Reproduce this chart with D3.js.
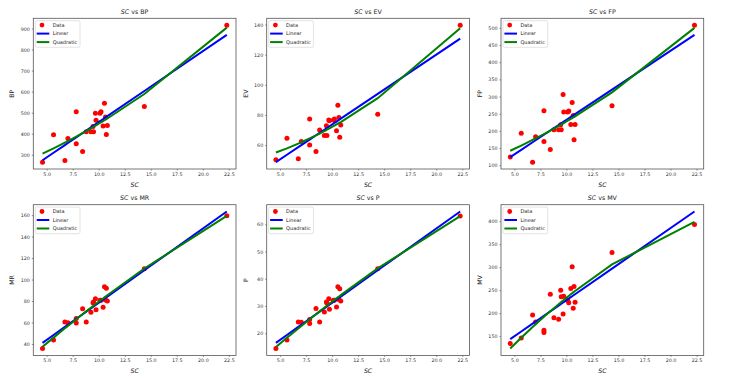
<!DOCTYPE html>
<html><head><meta charset="utf-8">
<script src="https://cdn.jsdelivr.net/npm/d3@7"></script>
<style>
html,body{margin:0;padding:0;background:#fff;}
svg{display:block;font-family:"DejaVu Sans",sans-serif;}
</style></head>
<body><svg id="c" width="734" height="379"></svg>
<script>
// ---- data ----
const sc = [4.6, 5.66, 6.75, 7.04, 7.84, 7.84, 8.45, 8.8, 9.25, 9.45, 9.5, 9.68, 9.74, 10.12, 10.22, 10.42, 10.55, 10.65, 10.73, 10.83, 14.38, 22.3];
const bp = [265, 395, 273, 377, 504, 352, 316, 410, 410, 434, 409, 497, 464, 497, 504, 437, 545, 480, 396, 439, 529, 916];
const ev = [50.3, 64.6, 51.0, 62.4, 77.4, 60.0, 55.8, 70.1, 66.4, 72.8, 66.4, 76.7, 76.2, 76.7, 77.4, 69.5, 86.5, 78.3, 65.2, 73.3, 80.5, 139.6];
const fp = [124, 193, 109, 183, 259, 169, 146, 203, 203, 218, 203, 306, 255, 255, 258, 219, 283, 245, 174, 219, 273, 508];
const mr = [35.7, 43.7, 60.5, 59.8, 63.6, 59.5, 72.9, 60.5, 69.5, 78.4, 79, 82.2, 71.9, 80.6, 80.6, 74.1, 93.3, 81, 91.8, 80, 110, 159.4];
const pp = [14.4, 17.5, 24.1, 24.0, 25.1, 23.6, 29.1, 24.1, 27.8, 31.5, 31.1, 32.7, 28.8, 32.1, 32.1, 29.6, 37.1, 32.4, 36.3, 31.8, 43.7, 63.0];
const mv = [134, 146, 196, 181, 163, 158, 241, 190, 187, 250, 236, 198, 237, 228, 223, 254, 301, 211, 258, 224, 332, 393];

const names = ["BP", "EV", "FP", "MR", "P", "MV"];
const seriesList = [bp, ev, fp, mr, pp, mv];
const xTicks = [5.0, 7.5, 10.0, 12.5, 15.0, 17.5, 20.0, 22.5];
const yTicksBP = [300, 400, 500, 600, 700, 800, 900];
const yTicksEV = [60, 80, 100, 120, 140];
const yTicksFP = [100, 150, 200, 250, 300, 350, 400, 450, 500];
const yTicksMR = [40, 60, 80, 100, 120, 140, 160];
const yTicksP = [20, 30, 40, 50, 60];
const yTicksMV = [150, 200, 250, 300, 350, 400];
const yTickList = [yTicksBP, yTicksEV, yTicksFP, yTicksMR, yTicksP, yTicksMV];
const legendLabels = ["Data", "Linear", "Quadratic"];

// ---- fitting helpers ----
function solve(A, b) {
  const n = b.length; A = A.map(r => r.slice()); b = b.slice();
  for (let i = 0; i < n; i++) {
    let p = i; for (let k = i + 1; k < n; k++) if (Math.abs(A[k][i]) > Math.abs(A[p][i])) p = k;
    [A[i], A[p]] = [A[p], A[i]]; [b[i], b[p]] = [b[p], b[i]];
    for (let k = i + 1; k < n; k++) { const f = A[k][i] / A[i][i]; for (let j = i; j < n; j++) A[k][j] -= f * A[i][j]; b[k] -= f * b[i]; }
  }
  const x = new Array(n).fill(0);
  for (let i = n - 1; i >= 0; i--) { let s = b[i]; for (let j = i + 1; j < n; j++) s -= A[i][j] * x[j]; x[i] = s / A[i][i]; }
  return x;
}
function polyfit(xs, ys, deg) {
  const m = deg + 1, A = [], b = [];
  for (let i = 0; i < m; i++) { A.push([]); for (let j = 0; j < m; j++) A[i].push(d3.sum(xs, x => Math.pow(x, i + j))); b.push(d3.sum(xs, (x, k) => ys[k] * Math.pow(x, i))); }
  return solve(A, b);
}
const evalP = (c, x) => c.reduce((s, ci, i) => s + ci * Math.pow(x, i), 0);

// ---- layout ----
const svg = d3.select("#c");
const lefts = [33.3, 266.7, 501], tops = [18.3, 204.7], W = 202.7, H = 150.7;
const C = { red: "#ff0000", blue: "#0000ff", green: "#008000" };

function pad(lo, hi) { const r = hi - lo; return [lo - 0.05 * r, hi + 0.05 * r]; }

seriesList.forEach((ys, idx) => {
  const L = lefts[idx % 3], T = tops[Math.floor(idx / 3)];
  const g = svg.append("g").attr("transform", `translate(${L},${T})`);
  const c1 = polyfit(sc, ys, 1), c2 = polyfit(sc, ys, 2);
  const lin = sc.map(x => evalP(c1, x)), quad = sc.map(x => evalP(c2, x));
  const all = ys.concat(lin, quad);
  const x = d3.scaleLinear().domain(pad(d3.min(sc), d3.max(sc))).range([0, W]);
  const y = d3.scaleLinear().domain(pad(d3.min(all), d3.max(all))).range([H, 0]);

  g.append("rect").attr("width", W).attr("height", H).attr("fill", "#fff");

  g.selectAll("circle").data(sc).join("circle")
    .attr("cx", d => x(d)).attr("cy", (d, i) => y(ys[i])).attr("r", 2.5).attr("fill", C.red);
  const line = d3.line().x(d => x(d[0])).y(d => y(d[1]));
  g.append("path").attr("d", line(sc.map((d, i) => [d, lin[i]]))).attr("fill", "none").attr("stroke", C.blue).attr("stroke-width", 2);
  g.append("path").attr("d", line(sc.map((d, i) => [d, quad[i]]))).attr("fill", "none").attr("stroke", C.green).attr("stroke-width", 2);

  // axes
  const xa = g.append("g").attr("transform", `translate(0,${H})`)
    .call(d3.axisBottom(x).tickValues(xTicks).tickFormat(d3.format(".1f")).tickSize(1.5).tickPadding(2));
  const ya = g.append("g").call(d3.axisLeft(y).tickValues(yTickList[idx]).tickFormat(d3.format("d")).tickSize(1.5).tickPadding(2));
  [xa, ya].forEach(a => {
    a.select(".domain").remove();
    a.selectAll("line").attr("stroke", "#444").attr("stroke-width", 0.6);
    a.selectAll("text").attr("fill", "#333").style("font-size", "4.8px").style("font-family", "DejaVu Sans");
  });
  g.append("rect").attr("width", W).attr("height", H).attr("fill", "none").attr("stroke", "#555").attr("stroke-width", 0.8);

  // labels
  const t = g.append("text").attr("x", W / 2).attr("y", -4.5).attr("text-anchor", "middle").style("font-size", "6.3px").attr("fill", "#222");
  t.append("tspan").style("font-style", "italic").text("SC");
  t.append("tspan").text(" vs " + names[idx]);
  g.append("text").attr("x", W / 2).attr("y", H + 18).attr("text-anchor", "middle").style("font-size", "6.2px").style("font-style", "italic").attr("fill", "#222").text("SC");
  g.append("text").attr("transform", `translate(-19,${H / 2}) rotate(-90)`).attr("text-anchor", "middle").style("font-size", "6.2px").attr("fill", "#222").text(names[idx]);

  // legend
  const lg = g.append("g").attr("transform", "translate(2,2.4)");
  lg.append("rect").attr("width", 44.7).attr("height", 26.6).attr("rx", 1.5).attr("fill", "#fff").attr("fill-opacity", 0.85).attr("stroke", "#d0d0d0").attr("stroke-width", 0.6);
  legendLabels.forEach((lab, k) => {
    const yy = 4.4 + k * 8.5;
    if (k === 0) lg.append("circle").attr("cx", 6.7).attr("cy", yy).attr("r", 2.4).attr("fill", C.red);
    else lg.append("line").attr("x1", 1.4).attr("x2", 14).attr("y1", yy).attr("y2", yy).attr("stroke", k === 1 ? C.blue : C.green).attr("stroke-width", 2);
    lg.append("text").attr("x", 17.4).attr("y", yy + 1.8).style("font-size", "5px").attr("fill", "#222").text(lab);
  });
});
</script></body></html>
